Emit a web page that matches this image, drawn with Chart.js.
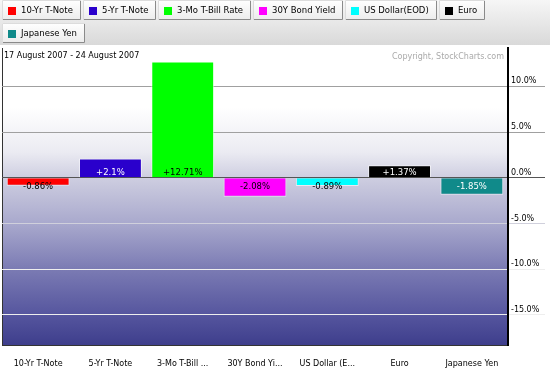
<!DOCTYPE html>
<html>
<head>
<meta charset="utf-8">
<script src="https://cdn.jsdelivr.net/npm/chart.js@4"></script>
<style>
  html, body { margin: 0; padding: 0; background: #fff; }
  canvas { display: block; }
</style>
</head>
<body>
<canvas id="perf" width="550" height="368"></canvas>
<script>
// data
const categories = ["10-Yr T-Note", "5-Yr T-Note", "3-Mo T-Bill Rate", "30Y Bond Yield", "US Dollar(EOD)", "Euro", "Japanese Yen"];
const tickLabels = ["10-Yr T-Note", "5-Yr T-Note", "3-Mo T-Bill ...", "30Y Bond Yi...", "US Dollar (E...", "Euro", "Japanese Yen"];
const changes = [-0.86, 2.1, 12.71, -2.08, -0.89, 1.37, -1.85];
const barColors = ["#ff0000", "#2a00cc", "#00ff00", "#ff00ff", "#00ffff", "#000000", "#108a8a"];
const labelColors = ["#000", "#fff", "#000", "#000", "#000", "#fff", "#fff"];
const yTicks = [-15, -10, -5, 0, 5, 10];
const dateRange = "17 August 2007 - 24 August 2007";

const FONT = "DejaVu Sans";

const backdrop = {
  id: "backdrop",
  beforeDraw(chart) {
    const { ctx, chartArea: a, width } = chart;
    ctx.save();
    // legend strip
    let g = ctx.createLinearGradient(0, 0, 0, 45);
    g.addColorStop(0, "#f6f6f6");
    g.addColorStop(1, "#d9d9d9");
    ctx.fillStyle = g;
    ctx.fillRect(0, 0, width, 45);

    // plot area gradient
    g = ctx.createLinearGradient(0, a.top, 0, a.bottom);
    g.addColorStop(0, "#ffffff");
    g.addColorStop(0.2, "#ffffff");
    g.addColorStop(0.35, "#ebebf2");
    g.addColorStop(0.44, "#cdcde0");
    g.addColorStop(0.59, "#a9a9cd");
    g.addColorStop(0.74, "#7c7cb4");
    g.addColorStop(0.9, "#55559e");
    g.addColorStop(1, "#3e3e8c");
    ctx.fillStyle = g;
    ctx.fillRect(a.left, a.top, a.right - a.left, a.bottom - a.top);

    // left border
    ctx.strokeStyle = "#333";
    ctx.lineWidth = 1;
    ctx.beginPath();
    ctx.moveTo(a.left + 0.5, a.top);
    ctx.lineTo(a.left + 0.5, a.bottom);
    ctx.stroke();

    // legend buttons
    ctx.font = "8.5px '" + FONT + "'";
    ctx.textBaseline = "middle";
    let x = 2, y = 0;
    const h = 20;
    categories.forEach((name, i) => {
      const w = Math.round(ctx.measureText(name).width) + 27;
      if (x + w > width - 60) { x = 2; y += 23; }
      const bg = ctx.createLinearGradient(0, y, 0, y + h);
      bg.addColorStop(0, "#ffffff");
      bg.addColorStop(1, "#ececec");
      ctx.fillStyle = bg;
      ctx.fillRect(x, y, w, h);
      ctx.strokeStyle = "#8a8a8a";
      ctx.beginPath();
      ctx.moveTo(x + w - 0.5, y);
      ctx.lineTo(x + w - 0.5, y + h - 0.5);
      ctx.lineTo(x, y + h - 0.5);
      ctx.stroke();
      ctx.strokeStyle = "#dcdcdc";
      ctx.beginPath();
      ctx.moveTo(x + 0.5, y + h);
      ctx.lineTo(x + 0.5, y + 0.5);
      ctx.lineTo(x + w, y + 0.5);
      ctx.stroke();
      ctx.fillStyle = barColors[i];
      ctx.fillRect(x + 6, y + 7, 8, 8);
      ctx.fillStyle = "#000";
      ctx.textAlign = "left";
      ctx.fillText(name, x + 19, y + 11);
      x += w + 2;
    });
    ctx.restore();
  }
};

const overlay = {
  id: "overlay",
  afterDatasetsDraw(chart) {
    const { ctx, chartArea: a } = chart;
    const zero = chart.scales.y.getPixelForValue(0);
    ctx.save();
    ctx.font = "8.5px '" + FONT + "'";
    ctx.textAlign = "center";
    ctx.textBaseline = "middle";
    chart.getDatasetMeta(0).data.forEach((bar, i) => {
      const v = changes[i];
      const txt = (v > 0 ? "+" : "") + v + "%";
      ctx.fillStyle = labelColors[i];
      ctx.fillText(txt, bar.x, v >= 0 ? zero - 5 : zero + 9);
    });
    ctx.font = "8px '" + FONT + "'";
    ctx.fillStyle = "#000";
    ctx.textAlign = "left";
    ctx.fillText(dateRange, a.left + 2, a.top + 8);
    ctx.fillStyle = "#aaa";
    ctx.textAlign = "right";
    ctx.fillText("Copyright, StockCharts.com", a.right - 4, a.top + 9);
    ctx.restore();
  }
};

function gridColor(c) {
  const v = c.tick && c.tick.value;
  if (v === 0) return "#555";
  if (v > 0) return "#a0a0a0";
  if (v === -5) return "#d0d0dc";
  return "#eeeeee";
}

new Chart(document.getElementById("perf"), {
  type: "bar",
  data: {
    labels: tickLabels,
    datasets: [{
      label: "% change",
      data: changes,
      backgroundColor: barColors,
      borderColor: "rgba(255,255,255,0.6)",
      borderWidth: 1,
      barPercentage: 0.87,
      categoryPercentage: 1
    }]
  },
  options: {
    responsive: false,
    animation: false,
    devicePixelRatio: 1,
    layout: { padding: { top: 48, left: 2, right: 0, bottom: 0 } },
    plugins: {
      legend: { display: false },
      tooltip: { enabled: false }
    },
    scales: {
      x: {
        grid: { display: false },
        border: { display: true, color: "#333", width: 1 },
        ticks: {
          color: "#000",
          font: { family: FONT, size: 8 },
          padding: 6,
          autoSkip: false,
          maxRotation: 0
        },
        afterFit(s) { s.height = 23; }
      },
      y: {
        position: "right",
        min: -18.3,
        max: 14.2,
        afterBuildTicks(s) { s.ticks = yTicks.map(v => ({ value: v })); },
        afterFit(s) { s.width = 42; },
        border: { display: true, color: "#000", width: 2 },
        grid: {
          color: gridColor,
          tickColor: gridColor,
          lineWidth: 1,
          drawTicks: true,
          tickLength: 37
        },
        ticks: {
          color: "#000",
          font: { family: FONT, size: 8 },
          padding: -34,
          labelOffset: -5,
          callback: v => v.toFixed(1) + "%"
        }
      }
    }
  },
  plugins: [backdrop, overlay]
});
</script>
</body>
</html>
